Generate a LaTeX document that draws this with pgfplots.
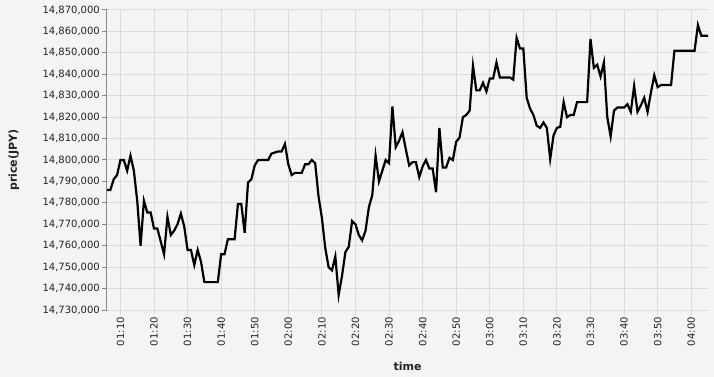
\documentclass[border=0pt]{standalone}
\usepackage{fontspec}
\setmainfont{DejaVu Sans}
\usepackage{pgfplots}
\pgfplotsset{compat=1.18}
\definecolor{bgc}{HTML}{F4F4F4}
\definecolor{gridc}{HTML}{DCDCDC}
\definecolor{domc}{HTML}{888888}
\definecolor{txtc}{HTML}{222222}
\begin{document}
\begin{tikzpicture}
\fill[bgc] (-107bp,-67bp) rectangle (607bp,310bp);
\begin{axis}[
  width=601bp, height=300bp, scale only axis,
  xmin=66, xmax=245, ymin=14730000, ymax=14870000,
  axis x line*=bottom, axis y line*=left,
  x axis line style={draw=gridc, line width=1bp},
  y axis line style={draw=domc, line width=1bp},
  xtick={70,80,90,100,110,120,130,140,150,160,170,180,190,200,210,220,230,240},
  xticklabels={01:10,01:20,01:30,01:40,01:50,02:00,02:10,02:20,02:30,02:40,02:50,03:00,03:10,03:20,03:30,03:40,03:50,04:00},
  ytick={14730000,14740000,14750000,14760000,14770000,14780000,14790000,14800000,14810000,14820000,14830000,14840000,14850000,14860000,14870000},
  yticklabels={{14,730,000},{14,740,000},{14,750,000},{14,760,000},{14,770,000},{14,780,000},{14,790,000},{14,800,000},{14,810,000},{14,820,000},{14,830,000},{14,840,000},{14,850,000},{14,860,000},{14,870,000}},
  scaled y ticks=false,
  tick align=outside, major tick length=5bp,
  x tick style={draw=gridc, line width=1bp},
  y tick style={draw=domc, line width=1bp},
  grid=major, major grid style={draw=gridc, line width=1bp},
  tick label style={font=\fontsize{10bp}{12bp}\selectfont, text=txtc},
  xticklabel style={rotate=90, anchor=east, inner sep=2bp},
  yticklabel style={inner sep=2bp},
  xlabel={time}, ylabel={price(JPY)},
  label style={font=\fontsize{11bp}{13bp}\selectfont\bfseries, text=txtc},
  xlabel style={at={(axis description cs:0.5,-0.187)}, anchor=center},
  ylabel style={at={(axis description cs:-0.155,0.5)}, anchor=center},
]
\addplot[black, line width=2.2bp, mark=none] coordinates {
(66,14786000)(67,14786000)(68,14791000)(69,14793000)(70,14800000)(71,14800000)
(72,14795000)(73,14802000)(74,14795000)(75,14781000)(76,14760000)(77,14781000)
(78,14775500)(79,14775500)(80,14768000)(81,14768000)(82,14762000)(83,14756000)
(84,14773500)(85,14765000)(86,14767000)(87,14770000)(88,14775000)(89,14769000)
(90,14758000)(91,14758000)(92,14751000)(93,14758000)(94,14752500)(95,14743000)
(96,14743000)(97,14743000)(98,14743000)(99,14743000)(100,14756000)(101,14756000)
(102,14763000)(103,14763000)(104,14763000)(105,14779500)(106,14779500)(107,14766000)
(108,14789500)(109,14791000)(110,14797500)(111,14800000)(112,14800000)(113,14800000)
(114,14800000)(115,14803000)(116,14803500)(117,14804000)(118,14804000)(119,14807500)
(120,14798000)(121,14793000)(122,14794000)(123,14794000)(124,14794000)(125,14798000)
(126,14798000)(127,14800000)(128,14798500)(129,14783000)(130,14773000)(131,14759000)
(132,14750000)(133,14748500)(134,14755000)(135,14737000)(136,14746000)(137,14757000)
(138,14759500)(139,14771500)(140,14770000)(141,14765000)(142,14762500)(143,14767000)
(144,14778000)(145,14783500)(146,14802000)(147,14790000)(148,14795000)(149,14800000)
(150,14798500)(151,14825000)(152,14806000)(153,14809000)(154,14813000)(155,14805000)
(156,14797500)(157,14799000)(158,14799000)(159,14792000)(160,14797000)(161,14800000)
(162,14796000)(163,14796000)(164,14785000)(165,14815000)(166,14796500)(167,14796500)
(168,14801000)(169,14800000)(170,14808500)(171,14810500)(172,14820000)(173,14821000)
(174,14823000)(175,14844000)(176,14832500)(177,14832500)(178,14836000)(179,14832000)
(180,14838000)(181,14838000)(182,14845500)(183,14838500)(184,14838500)(185,14838500)
(186,14838500)(187,14837500)(188,14857000)(189,14852000)(190,14852000)(191,14829000)
(192,14824000)(193,14821000)(194,14816000)(195,14815000)(196,14817500)(197,14815000)
(198,14800500)(199,14811500)(200,14815000)(201,14815500)(202,14827000)(203,14820000)
(204,14821000)(205,14821000)(206,14827000)(207,14827000)(208,14827000)(209,14827000)
(210,14856500)(211,14843000)(212,14844500)(213,14839000)(214,14845500)(215,14820000)
(216,14811000)(217,14823000)(218,14824500)(219,14824500)(220,14824500)(221,14826000)
(222,14822500)(223,14834500)(224,14822500)(225,14825500)(226,14829000)(227,14822500)
(228,14831500)(229,14839500)(230,14834000)(231,14835000)(232,14835000)(233,14835000)
(234,14835000)(235,14851000)(236,14851000)(237,14851000)(238,14851000)(239,14851000)
(240,14851000)(241,14851000)(242,14863000)(243,14858000)(244,14858000)(245,14858000)
};
\end{axis}
\pgfresetboundingbox
\useasboundingbox (-107bp,-67bp) rectangle (607bp,310bp);
\end{tikzpicture}
\end{document}
